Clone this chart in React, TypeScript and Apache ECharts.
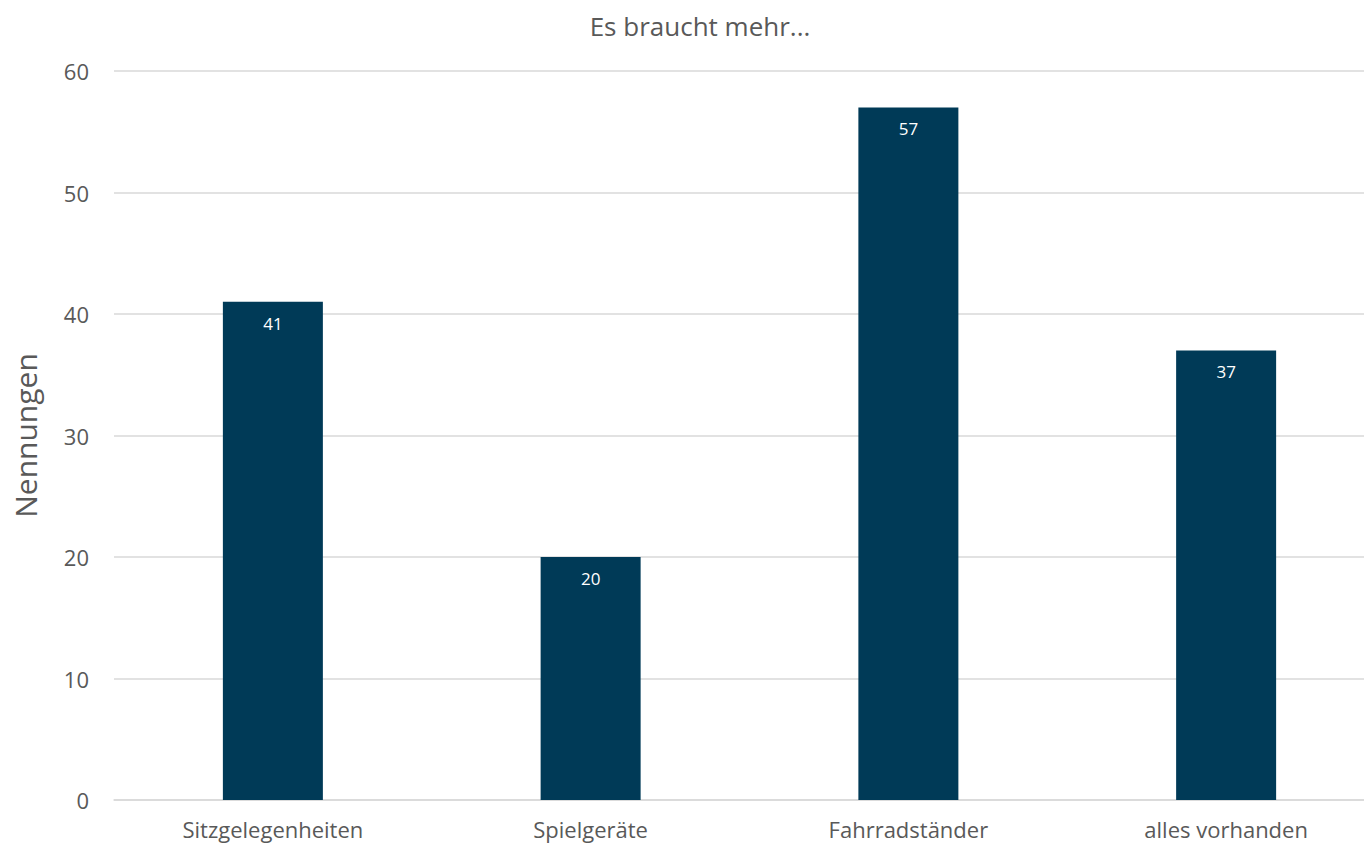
import React, { useEffect, useRef } from "react";
import * as echarts from "echarts";

const categories = ["Sitzgelegenheiten", "Spielgeräte", "Fahrradständer", "alles vorhanden"];
const values = [41, 20, 57, 37];
const yTicks = { min: 0, max: 60, interval: 10 };
const titleText = "Es braucht mehr...";
const yAxisName = "Nennungen";

const FONT = "'Open Sans', sans-serif";

export default function App() {
  const ref = useRef<HTMLDivElement>(null);
  useEffect(() => {
    if (!ref.current) return;
    const chart = echarts.init(ref.current, undefined, { renderer: "svg" });
    chart.setOption({
      animation: false,
      backgroundColor: "#ffffff",
      title: {
        text: titleText,
        left: 695,
        textAlign: "center",
        top: 8,
        textStyle: { fontFamily: FONT, fontSize: 26, fontWeight: "normal", color: "#595959" },
      },
      grid: { left: 114, top: 71, width: 1271, height: 729, containLabel: false },
      xAxis: {
        type: "category",
        data: categories,
        axisLine: { show: true, lineStyle: { color: "#d9d9d9", width: 1.5 } },
        axisTick: { show: false },
        axisLabel: { color: "#595959", fontFamily: FONT, fontSize: 22, margin: 17, lineHeight: 24 },
      },
      yAxis: {
        type: "value",
        min: yTicks.min,
        max: yTicks.max,
        interval: yTicks.interval,
        name: yAxisName,
        nameLocation: "middle",
        nameGap: 74,
        nameTextStyle: { color: "#595959", fontFamily: FONT, fontSize: 30 },
        axisLine: { show: false },
        axisTick: { show: false },
        splitLine: { lineStyle: { color: "#d9d9d9", width: 1.5 } },
        axisLabel: { color: "#595959", fontFamily: FONT, fontSize: 22, margin: 25 },
      },
      series: [
        {
          type: "bar",
          data: values,
          barWidth: 100,
          itemStyle: { color: "#003A57" },
          label: {
            show: true,
            position: "insideTop",
            distance: 13,
            color: "#ffffff",
            fontFamily: FONT,
            fontSize: 17,
          },
        },
      ],
    });
    return () => chart.dispose();
  }, []);
  return (
    <div
      ref={ref}
      style={{ position: "fixed", left: 0, top: 0, width: 1400, height: 846 }}
    />
  );
}
